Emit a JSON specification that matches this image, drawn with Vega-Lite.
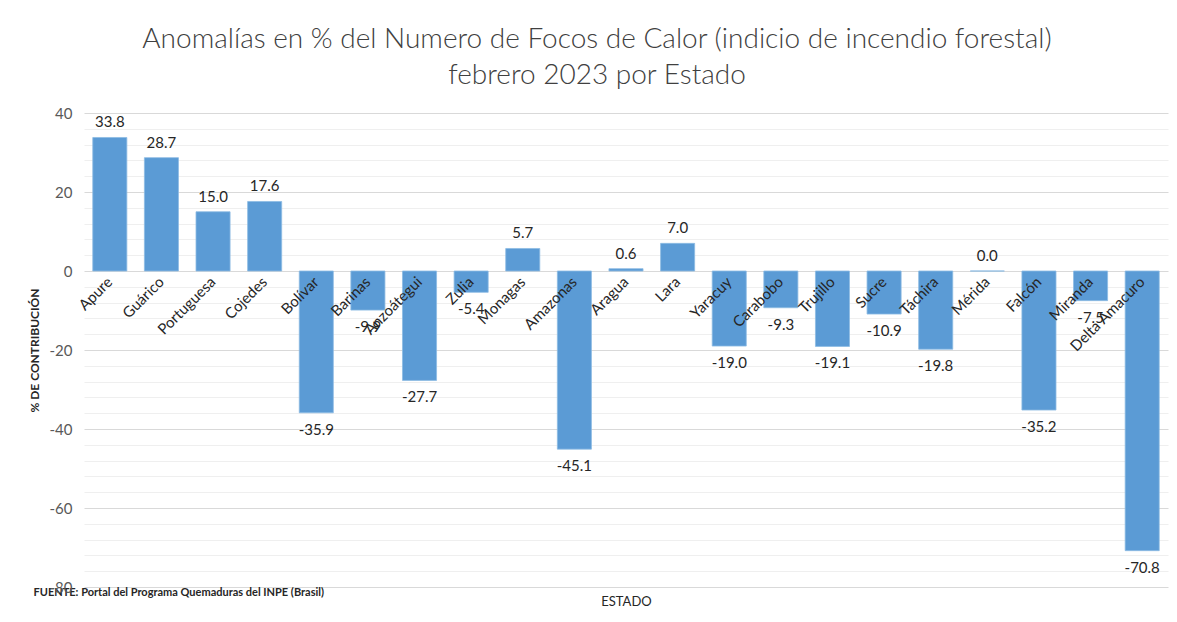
{
  "$schema": "https://vega.github.io/schema/vega-lite/v6.json",
  "width": 1084,
  "height": 474,
  "autosize": "none",
  "padding": {"left": 84, "top": 113, "right": 9, "bottom": 35},
  "background": "white",
  "config": {
    "font": "Lato",
    "view": {"stroke": null},
    "axis": {"labelFont": "Lato", "titleFont": "Lato"},
    "locale": {
      "number": {"decimal": ".", "thousands": ",", "grouping": [3], "currency": ["$", ""], "minus": "-"}
    }
  },
  "title": {
    "text": ["Anomalías en % del Numero de Focos de Calor (indicio de incendio forestal)", "febrero  2023 por Estado"],
    "anchor": "middle",
    "frame": "group",
    "dx": -29,
    "fontSize": 28,
    "fontWeight": 300,
    "color": "#404040",
    "font": "Lato",
    "lineHeight": 36,
    "offset": 16
  },
  "data": {
    "values": [
      {"estado": "Apure", "valor": 33.8},
      {"estado": "Guárico", "valor": 28.7},
      {"estado": "Portuguesa", "valor": 15.0},
      {"estado": "Cojedes", "valor": 17.6},
      {"estado": "Bolívar", "valor": -35.9},
      {"estado": "Barinas", "valor": -9.9},
      {"estado": "Anzoátegui", "valor": -27.7},
      {"estado": "Zulia", "valor": -5.4},
      {"estado": "Monagas", "valor": 5.7},
      {"estado": "Amazonas", "valor": -45.1},
      {"estado": "Aragua", "valor": 0.6},
      {"estado": "Lara", "valor": 7.0},
      {"estado": "Yaracuy", "valor": -19.0},
      {"estado": "Carabobo", "valor": -9.3},
      {"estado": "Trujillo", "valor": -19.1},
      {"estado": "Sucre", "valor": -10.9},
      {"estado": "Táchira", "valor": -19.8},
      {"estado": "Mérida", "valor": 0.0},
      {"estado": "Falcón", "valor": -35.2},
      {"estado": "Miranda", "valor": -7.5},
      {"estado": "Delta Amacuro", "valor": -70.8}
    ]
  },
  "encoding": {
    "x": {
      "field": "estado",
      "type": "nominal",
      "sort": null,
      "scale": {"paddingInner": 0.34, "paddingOuter": 0.17}
    },
    "y": {
      "field": "valor",
      "type": "quantitative",
      "scale": {"domain": [-80, 40], "nice": false, "zero": false}
    }
  },
  "layer": [
    {
      "mark": {"type": "text", "opacity": 0},
      "encoding": {
        "x": {"field": "estado", "type": "nominal", "sort": null, "axis": null},
        "y": {
          "field": "valor",
          "type": "quantitative",
          "axis": {
            "orient": "left",
            "values": [-76, -72, -68, -64, -56, -52, -48, -44, -36, -32, -28, -24, -16, -12, -8, -4, 4, 8, 12, 16, 24, 28, 32, 36],
            "labels": false,
            "domain": false,
            "ticks": false,
            "grid": true,
            "gridColor": "#efefef",
            "gridWidth": 1,
            "title": null,
            "zindex": 0
          }
        },
        "text": {"value": ""}
      }
    },
    {
      "mark": {"type": "bar", "color": "#5B9BD5", "stroke": "#8dbbe3", "strokeWidth": 0.8},
      "encoding": {
        "x": {
          "field": "estado",
          "type": "nominal",
          "sort": null,
          "axis": {
            "orient": "bottom",
            "offset": -316,
            "zindex": 1,
            "labelAngle": -45,
            "labelAlign": "right",
            "labelBaseline": "middle",
            "labelFontSize": 15,
            "labelColor": "#262626",
            "labelPadding": 8,
            "labelOverlap": false,
            "labelLimit": 200,
            "domain": false,
            "ticks": false,
            "title": "ESTADO",
            "titleFontSize": 13,
            "titleFontWeight": "normal",
            "titleColor": "#262626",
            "titleX": 542,
            "titleY": 334,
            "titleBaseline": "alphabetic",
            "titleAlign": "center"
          }
        },
        "y": {
          "field": "valor",
          "type": "quantitative",
          "axis": {
            "orient": "left",
            "values": [-80, -60, -40, -20, 0, 20, 40],
            "labelFontSize": 15,
            "labelColor": "#595959",
            "labelPadding": 12,
            "labelOverlap": false,
            "domain": false,
            "ticks": false,
            "grid": true,
            "gridColor": "#d9d9d9",
            "gridWidth": 1,
            "title": "% DE CONTRIBUCIÓN",
            "titleFontSize": 12,
            "titleFontWeight": "bold",
            "titleColor": "#262626",
            "titlePadding": 8
          }
        }
      }
    },
    {
      "transform": [{"filter": "datum.valor >= 0"}],
      "mark": {"type": "text", "fontSize": 15, "color": "#262626", "baseline": "middle", "font": "Lato", "dy": -15},
      "encoding": {
        "x": {
          "field": "estado",
          "type": "nominal",
          "sort": null,
          "axis": {
            "orient": "bottom",
            "labels": false,
            "domain": false,
            "ticks": false,
            "grid": false,
            "title": "FUENTE:  Portal del Programa Quemaduras del INPE (Brasil)",
            "titleFontSize": 11,
            "titleFontWeight": "bold",
            "titleColor": "#262626",
            "titleX": -51,
            "titleY": 5,
            "titleAlign": "left",
            "titleBaseline": "middle"
          }
        },
        "y": {"field": "valor", "type": "quantitative", "axis": null},
        "text": {"field": "valor", "type": "quantitative", "format": ".1f"}
      }
    },
    {
      "transform": [{"filter": "datum.valor < 0"}],
      "mark": {"type": "text", "fontSize": 15, "color": "#262626", "baseline": "middle", "font": "Lato", "dy": 17},
      "encoding": {
        "x": {"field": "estado", "type": "nominal", "sort": null, "axis": null},
        "y": {"field": "valor", "type": "quantitative", "axis": null},
        "text": {"field": "valor", "type": "quantitative", "format": ".1f"}
      }
    }
  ],
  "resolve": {"axis": {"x": "independent", "y": "independent"}}
}
